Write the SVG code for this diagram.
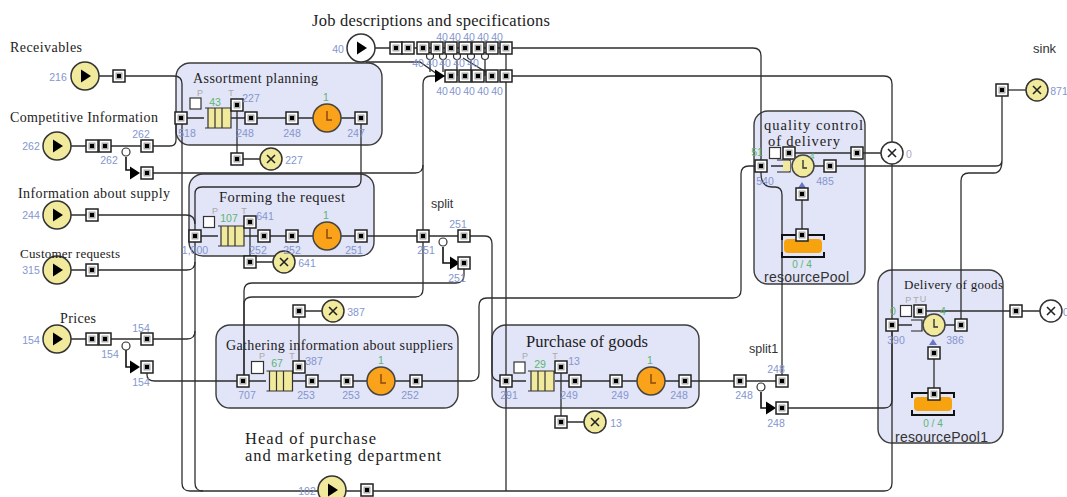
<svg xmlns="http://www.w3.org/2000/svg" width="1067" height="497" viewBox="0 0 1067 497">
<style>
.blk{fill:#e2e4f7;stroke:#3c3c3c;stroke-width:1.4}
.ln{fill:none;stroke:#2e2e2e;stroke-width:1.3}
.tk{fill:none;stroke:#111;stroke-width:1.6}
.t{font-family:"Liberation Serif",serif;fill:#1c1c1c}
.s{font-family:"Liberation Sans",sans-serif;fill:#333}
.n{font-family:"Liberation Sans",sans-serif;font-size:10.5px;fill:#8496cf;text-anchor:middle}
.g{font-family:"Liberation Sans",sans-serif;font-size:10.5px;fill:#5bb574;text-anchor:middle}
.p{font-family:"Liberation Sans",sans-serif;font-size:9px;fill:#aaa;text-anchor:middle}
.bx{fill:#fff;stroke:#333;stroke-width:1.2}
</style>
<defs>
<g id="port"><rect x="-6" y="-6" width="12" height="12" fill="#fff" stroke="#222" stroke-width="1.5"/><rect x="-3.5" y="-3.5" width="7" height="7" fill="#aaa"/><rect x="-2" y="-2" width="4" height="4" fill="#000"/></g>
<g id="src"><circle r="14" fill="#f1e99b" stroke="#333" stroke-width="1.5"/><path d="M-4,-6.5L6,0L-4,6.5Z" fill="#000"/></g>
<g id="srcw"><circle r="14" fill="#fff" stroke="#333" stroke-width="1.5"/><path d="M-4,-6.5L6,0L-4,6.5Z" fill="#000"/></g>
<g id="snk"><circle r="11" fill="#f1e99b" stroke="#333" stroke-width="1.5"/><path d="M-4,-4L4,4M4,-4L-4,4" stroke="#222" stroke-width="1.6"/></g>
<g id="snkw"><circle r="11" fill="#fff" stroke="#333" stroke-width="1.5"/><path d="M-4,-4L4,4M4,-4L-4,4" stroke="#222" stroke-width="1.6"/></g>
<g id="clk"><circle r="14" fill="#f9a21a" stroke="#444" stroke-width="1.5"/><path d="M0,-7V2H5" fill="none" stroke="#8a4a10" stroke-width="1.5"/></g>
<g id="clky"><circle r="11" fill="#f1e99b" stroke="#444" stroke-width="1.5"/><path d="M0,-6V2H4" fill="none" stroke="#333" stroke-width="1.4"/></g>
<g id="q"><rect x="-10" y="-10" width="23" height="20" fill="#f1e99b"/><path d="M-13,-10H13V10H-13M-10,-10V10M-3,-10V10M4,-10V10" fill="none" stroke="#333" stroke-width="1.2"/></g>
<path id="arr" d="M-5,-6.5L5,0L-5,6.5Z" fill="#000"/>
<g id="pool"><rect x="-19" y="-7" width="38" height="14" rx="4" fill="#f7a30f"/><path d="M-21,-6V-11H21V-6M-21,6V11H21V6" fill="none" stroke="#111" stroke-width="2"/></g>
</defs>
<rect width="1067" height="497" fill="#fff"/>

<g id="block-assortment"><rect class="blk" x="176" y="63" width="206" height="82" rx="14"/><text class="t" x="193" y="83" font-size="14" textLength="125">Assortment planning</text></g>
<g id="block-forming"><rect class="blk" x="189" y="174" width="185" height="82" rx="14"/><text class="t" x="219" y="202" font-size="14.500" textLength="126">Forming the request</text></g>
<g id="block-gathering"><rect class="blk" x="216" y="325" width="242" height="83" rx="14"/><text class="t" x="226" y="350" font-size="14" textLength="227">Gathering information about suppliers</text></g>
<g id="block-purchase"><rect class="blk" x="492" y="325" width="207" height="83" rx="14"/><text class="t" x="526" y="347" font-size="16.500" textLength="122">Purchase of goods</text></g>
<g id="block-quality"><rect class="blk" x="754" y="111" width="111" height="173" rx="14"/><text class="t" x="764" y="130" font-size="14.500" textLength="99">quality control</text><text class="t" x="768" y="146" font-size="14.500" textLength="72">of delivery</text></g>
<g id="block-delivery"><rect class="blk" x="878" y="270" width="125" height="173" rx="14"/><text class="t" x="904" y="289" font-size="13" textLength="99">Delivery of goods</text></g>

<g id="connectors">
<path class="ln" d="M99,76H174Q182,76 182,84V483Q182,491 190,491H884Q892,491 892,483V84Q892,76 884,76H506"/>
<path class="ln" d="M71,146H170Q176,146 176,140V126Q176,118 182,118H204M216,118H317M341,118H361"/>
<path class="ln" d="M71,215H186Q195,215 195,224M71,270H187Q195,270 195,262M71,339H187Q195,339 195,331"/>
<path class="ln" d="M195,245V194Q195,187 202,187H353Q361,187 361,180V118"/>
<path class="ln" d="M195,245V483Q195,491 203,491"/>
<path class="ln" d="M195,236H218M237,236H313M341,236H485Q492,236 492,244V372Q492,381 500,381H506"/>
<path class="ln" d="M147,173H415Q423,173 423,165V84Q423,76 431,76H445"/>
<path class="ln" d="M423,165V289Q423,297 415,297H252Q244,297 244,304V381"/>
<path class="ln" d="M464,263V275Q464,283 456,283H252Q244,283 244,291V381"/>
<path class="ln" d="M147,367V375Q147,381 155,381H266"/>
<path class="ln" d="M293,381H367M395,381H471Q479,381 479,373V306Q479,298 487,298H733Q741,298 741,290V174Q741,166 749,166H761"/>
<path class="ln" d="M506,381H526M555,381H637M665,381H782"/>
<path class="ln" d="M375,48H506V491"/>
<path class="ln" d="M506,48H753Q761,48 761,56V173Q761,187 772,187H775Q782,187 782,195V381"/>
<path class="ln" d="M782,408H884Q892,408 892,400V325"/>
<path class="ln" d="M771,166H790M814,166H996Q1002,166 1002,160V90M1002,160Q1002,173 994,173H969Q961,173 961,181V325"/>
<path class="ln" d="M789,153H892M920,311H1040"/>
<path class="ln" d="M892,325H912M945,325H961"/>
<path class="ln" d="M237,105V159H260M250,222V262H273M299,367V311H322M561,367V422H584"/>
<path class="ln" d="M802,194V235M934,353V394"/>
<path class="ln" d="M1002,90H1026"/>
<path class="ln" d="M366,62H420L437,74M463,58L486,72"/>
<path class="tk" d="M126,157V170H132M126,350V367H132M443,247V263H452M761,392V408H768"/>
<path class="ln" d="M430,60V72M443,60V72M457,60V76M471,60V76M485,60V76"/>
<g fill="#fff" stroke="#333" stroke-width="1.2"><circle cx="126" cy="152" r="4"/><circle cx="126" cy="346" r="4"/><circle cx="443" cy="242" r="4"/><circle cx="761" cy="387" r="4"/><circle cx="430" cy="56" r="3.500"/><circle cx="443" cy="56" r="3.500"/><circle cx="457" cy="56" r="3.500"/><circle cx="471" cy="56" r="3.500"/><circle cx="485" cy="56" r="3.500"/></g>
<use href="#arr" x="135" y="173"/><use href="#arr" x="135" y="367"/><use href="#arr" x="455" y="263"/><use href="#arr" x="771" y="408"/><use href="#arr" x="440" y="76"/>
</g>

<g id="source-receivables"><use href="#src" x="85" y="76"/><use href="#port" x="119" y="76"/><text class="t" x="10" y="52" font-size="14" textLength="72">Receivables</text><text class="n" x="58" y="81">216</text></g>
<g id="source-competitive"><use href="#src" x="57" y="146"/><use href="#port" x="92" y="146"/><use href="#port" x="105" y="146"/><use href="#port" x="147" y="146"/><use href="#port" x="147" y="173"/><text class="t" x="10" y="122" font-size="14" textLength="148">Competitive Information</text><text class="n" x="31" y="150">262</text><text class="n" x="141" y="138">262</text><text class="n" x="109" y="164">262</text></g>
<g id="source-supply"><use href="#src" x="57" y="215"/><use href="#port" x="92" y="215"/><text class="t" x="18" y="198" font-size="14" textLength="152">Information about supply</text><text class="n" x="31" y="219">244</text></g>
<g id="source-customer"><use href="#src" x="57" y="270"/><use href="#port" x="92" y="270"/><text class="t" x="20" y="258" font-size="13" textLength="100">Customer requests</text><text class="n" x="31" y="274">315</text></g>
<g id="source-prices"><use href="#src" x="57" y="339"/><use href="#port" x="92" y="339"/><use href="#port" x="105" y="339"/><use href="#port" x="147" y="339"/><use href="#port" x="147" y="367"/><text class="t" x="60" y="323" font-size="14" textLength="36">Prices</text><text class="n" x="31" y="344">154</text><text class="n" x="141" y="332">154</text><text class="n" x="110" y="358">154</text><text class="n" x="141" y="386">154</text></g>

<g id="source-job"><use href="#srcw" x="361" y="48"/><text class="t" x="312" y="26" font-size="16.500" textLength="238">Job descriptions and specifications</text><text class="n" x="338" y="53">40</text>
<use href="#port" x="396" y="48"/><use href="#port" x="408" y="48"/><use href="#port" x="423" y="48"/><use href="#port" x="437" y="48"/><use href="#port" x="451" y="48"/><use href="#port" x="465" y="48"/><use href="#port" x="478" y="48"/><use href="#port" x="492" y="48"/><use href="#port" x="506" y="48"/>
<use href="#port" x="451" y="76"/><use href="#port" x="465" y="76"/><use href="#port" x="478" y="76"/><use href="#port" x="492" y="76"/><use href="#port" x="506" y="76"/>
<text class="n" x="442" y="41">40</text><text class="n" x="455" y="41">40</text><text class="n" x="469" y="41">40</text><text class="n" x="483" y="41">40</text><text class="n" x="497" y="41">40</text>
<text class="n" x="418" y="67">40</text><text class="n" x="432" y="67">40</text><text class="n" x="445" y="67">40</text><text class="n" x="459" y="67">40</text><text class="n" x="473" y="67">40</text>
<text class="n" x="442" y="95">40</text><text class="n" x="455" y="95">40</text><text class="n" x="469" y="95">40</text><text class="n" x="483" y="95">40</text><text class="n" x="497" y="95">40</text></g>

<g id="assortment-parts"><use href="#port" x="181" y="118"/><rect class="bx" x="190" y="98" width="11" height="11"/><use href="#q" x="218" y="118"/><use href="#port" x="237" y="105"/><use href="#port" x="251" y="118"/><use href="#port" x="292" y="118"/><use href="#clk" x="327" y="118"/><use href="#port" x="361" y="118"/><use href="#port" x="237" y="159"/><use href="#snk" x="271" y="159"/>
<text class="p" x="200" y="96">P</text><text class="p" x="231" y="96">T</text><text class="g" x="215" y="106">43</text><text class="n" x="251" y="102">227</text><text class="g" x="326" y="101">1</text><text class="n" x="187" y="137">518</text><text class="n" x="245" y="137">248</text><text class="n" x="292" y="137">248</text><text class="n" x="356" y="137">247</text><text class="n" x="294" y="164">227</text></g>

<g id="forming-parts"><use href="#port" x="195" y="236"/><rect class="bx" x="203.500" y="216.500" width="11" height="11"/><use href="#q" x="231" y="236"/><use href="#port" x="250" y="222"/><use href="#port" x="264" y="236"/><use href="#port" x="292" y="236"/><use href="#clk" x="327" y="236"/><use href="#port" x="361" y="236"/><use href="#port" x="250" y="262"/><use href="#snk" x="284" y="262"/>
<text class="p" x="215" y="214">P</text><text class="p" x="244" y="214">T</text><text class="g" x="229" y="222">107</text><text class="n" x="265" y="220">641</text><text class="g" x="326" y="219">1</text><text class="n" x="195" y="254">1,000</text><text class="n" x="258" y="254">252</text><text class="n" x="292" y="254">252</text><text class="n" x="354" y="254">251</text><text class="n" x="307" y="267">641</text></g>

<g id="gathering-parts"><use href="#port" x="243" y="381"/><rect class="bx" x="251.500" y="361.500" width="12" height="12"/><use href="#q" x="279.500" y="381"/><use href="#port" x="299" y="367"/><use href="#port" x="312" y="381"/><use href="#port" x="347" y="381"/><use href="#clk" x="381" y="381"/><use href="#port" x="416" y="381"/><use href="#port" x="299" y="311"/><use href="#snk" x="333" y="311"/>
<text class="p" x="262" y="359">P</text><text class="p" x="292" y="359">T</text><text class="g" x="277" y="367">67</text><text class="n" x="314" y="365">387</text><text class="g" x="381" y="364">1</text><text class="n" x="247" y="399">707</text><text class="n" x="306" y="399">253</text><text class="n" x="351" y="399">253</text><text class="n" x="410" y="399">252</text><text class="n" x="356" y="316">387</text></g>

<g id="split"><use href="#port" x="423" y="236"/><use href="#port" x="464" y="236"/><use href="#port" x="464" y="263"/><text class="s" x="431" y="208" font-size="12.500">split</text><text class="n" x="458" y="228">251</text><text class="n" x="426" y="254">251</text><text class="n" x="457" y="282">251</text></g>

<g id="purchase-parts"><use href="#port" x="506" y="381"/><rect class="bx" x="514" y="362" width="11" height="11"/><use href="#q" x="541" y="381"/><use href="#port" x="561" y="367"/><use href="#port" x="575" y="381"/><use href="#port" x="616" y="381"/><use href="#clk" x="651" y="381"/><use href="#port" x="685" y="381"/><use href="#port" x="561" y="422"/><use href="#snk" x="595" y="422"/>
<text class="p" x="525" y="359">P</text><text class="p" x="555" y="359">T</text><text class="g" x="540" y="368">29</text><text class="n" x="574" y="365">13</text><text class="g" x="650" y="364">1</text><text class="n" x="509" y="399">291</text><text class="n" x="569" y="399">249</text><text class="n" x="620" y="399">249</text><text class="n" x="679" y="399">248</text><text class="n" x="616" y="427">13</text></g>

<g id="split1"><use href="#port" x="740" y="381"/><use href="#port" x="782" y="381"/><use href="#port" x="782" y="408"/><text class="s" x="749" y="353" font-size="12.500">split1</text><text class="n" x="776" y="373">248</text><text class="n" x="744" y="399">248</text><text class="n" x="776" y="427">248</text></g>

<g id="quality-parts"><use href="#port" x="761" y="166"/><rect class="bx" x="769.500" y="147.500" width="11" height="11"/><use href="#port" x="789" y="153"/><path d="M777,160H790V172H777" fill="none" stroke="#222" stroke-width="1.200"/><rect x="783" y="161" width="7" height="10" fill="#f1e99b"/><use href="#clky" x="803" y="166"/><use href="#port" x="830" y="166"/><use href="#port" x="857" y="153"/><use href="#snkw" x="892" y="153"/><path d="M798,188L802,182L806,188Z" fill="#6a74c8"/><use href="#port" x="802" y="194"/><use href="#pool" x="803" y="246"/><use href="#port" x="802" y="235"/>
<text class="g" x="757" y="156">51</text><text class="g" x="812" y="159" style="font-size:9px">4</text><text class="n" x="765" y="185">540</text><text class="n" x="825" y="185">485</text><text class="n" x="909" y="158" style="fill:#aab">0</text><text class="g" x="802" y="268" style="font-size:10px">0 / 4</text><text class="s" x="764" y="282" font-size="14" textLength="85">resourcePool</text></g>

<g id="delivery-parts"><use href="#port" x="892" y="325"/><rect class="bx" x="900.500" y="305.500" width="11" height="11"/><use href="#port" x="920" y="311"/><path d="M911,320H922V331H911" fill="none" stroke="#222" stroke-width="1.200"/><use href="#clky" x="934" y="325"/><use href="#port" x="961" y="325"/><use href="#port" x="1016" y="311"/><use href="#snkw" x="1051" y="311"/><path d="M929,345L933,339L937,345Z" fill="#6a74c8"/><use href="#port" x="934" y="353"/><use href="#pool" x="933" y="404"/><use href="#port" x="934" y="394"/>
<text class="p" x="912" y="303">P T</text><text class="p" x="923" y="302">U</text><text class="g" x="893" y="315">0</text><text class="g" x="943" y="315">4</text><text class="n" x="896" y="344">390</text><text class="n" x="955" y="344">386</text><text class="n" x="1066" y="316">0</text><text class="g" x="933" y="427" style="font-size:10px">0 / 4</text><text class="s" x="895" y="442" font-size="14" textLength="93">resourcePool1</text></g>

<g id="sink"><use href="#port" x="1002" y="90"/><use href="#snk" x="1037" y="90"/><text class="s" x="1033" y="53" font-size="13">sink</text><text class="n" x="1059" y="95">871</text></g>

<g id="source-head"><use href="#src" x="332" y="490"/><use href="#port" x="367" y="490"/><text class="n" x="307" y="495">102</text><text class="t" x="245" y="444" font-size="16.500" textLength="131">Head of purchase</text><text class="t" x="245" y="461" font-size="16.500" textLength="196">and marketing department</text></g>
</svg>
